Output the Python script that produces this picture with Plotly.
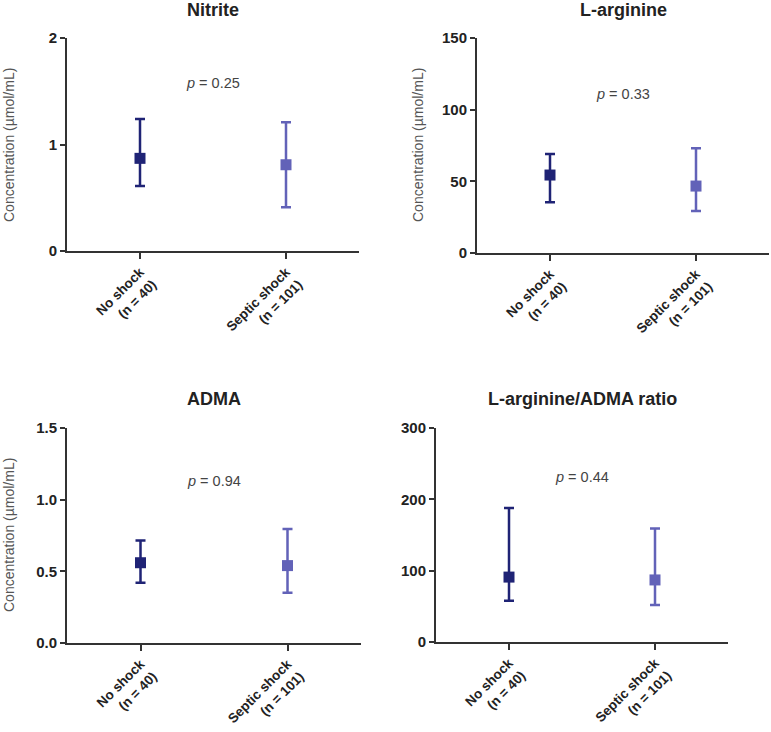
import plotly.graph_objects as go

W, H = 771, 732

groups = ["No shock<br>(n = 40)", "Septic shock<br>(n = 101)"]
colors = ["#1f2375", "#6262b8"]

titles = ["Nitrite", "L-arginine", "ADMA", "L-arginine/ADMA ratio"]
p_texts = ["0.25", "0.33", "0.94", "0.44"]
y_max = [2, 150, 1.5, 300]
y_dtick = [1, 50, 0.5, 100]
y_fmt = ["d", "d", ".1f", "d"]
show_ytitle = [True, True, True, False]

# median, upper, lower for [No shock, Septic shock]
centers = [[0.87, 0.81], [54.4, 46.7], [0.56, 0.54], [91, 87]]
uppers = [[1.24, 1.21], [69, 73], [0.715, 0.795], [188, 159]]
lowers = [[0.61, 0.41], [35.4, 29.3], [0.42, 0.35], [58, 52]]
p_y = [1.58, 111, 1.13, 232]

# panel pixel boxes: (x_left, x_right, y_top, y_bottom)
boxes = [(67, 359, 38, 251), (477, 769, 38, 253), (67, 361, 428, 643), (436, 728, 428, 642)]
ytitle_pos = [(9, 145), (418, 145), (9, 535), None]

fig = go.Figure()
axis_color = "#333333"
font_family = "Liberation Sans, Arial, sans-serif"

for i in range(4):
    xl, xr, yt, yb = boxes[i]
    xs = "" if i == 0 else str(i + 1)
    xa = "x" + xs
    ya = "y" + xs
    for g in range(2):
        c = centers[i][g]
        fig.add_trace(go.Scatter(
            x=[g], y=[c], mode="markers", xaxis=xa, yaxis=ya,
            marker=dict(symbol="square", size=11, color=colors[g]),
            error_y=dict(type="data", symmetric=False,
                         array=[uppers[i][g] - c], arrayminus=[c - lowers[i][g]],
                         color=colors[g], thickness=2.5, width=5),
            showlegend=False, cliponaxis=False))
    fig.layout["xaxis" + xs] = dict(
        domain=[xl / W, xr / W], anchor=ya, range=[-0.5, 1.5], automargin=False,
        tickmode="array", tickvals=[0, 1], ticktext=groups, tickangle=-45,
        showline=True, linecolor=axis_color, linewidth=2, ticks="outside",
        ticklen=6, tickwidth=2, tickcolor=axis_color, showgrid=False, zeroline=False,
        tickfont=dict(family=font_family, size=13.5, color="#222222", weight="bold"),
        fixedrange=True)
    fig.layout["yaxis" + xs] = dict(
        domain=[(H - yb) / H, (H - yt) / H], anchor=xa, range=[0, y_max[i]],
        automargin=False,
        dtick=y_dtick[i], tick0=0, tickformat=y_fmt[i],
        showline=True, linecolor=axis_color, linewidth=2, ticks="outside",
        ticklen=5, tickwidth=2, tickcolor=axis_color, showgrid=False, zeroline=False,
        tickfont=dict(family=font_family, size=15, color="#222222", weight="bold"),
        fixedrange=True)
    fig.add_annotation(text="<b>" + titles[i] + "</b>", xref="paper", yref="paper",
                       x=(xl + xr) / 2 / W, y=(H - 10) / H if i < 2 else (H - 399) / H,
                       showarrow=False, xanchor="center", yanchor="middle",
                       font=dict(family=font_family, size=18, color="#222222"))
    fig.add_annotation(text="<i>p</i> = " + p_texts[i], xref=xa, yref=ya,
                       x=0.5, y=p_y[i], showarrow=False,
                       font=dict(family=font_family, size=14.5, color="#444444"))
    if show_ytitle[i]:
        px, py = ytitle_pos[i]
        fig.add_annotation(text="Concentration (µmol/mL)", xref="paper", yref="paper",
                           x=px / W, y=(H - py) / H, showarrow=False, textangle=-90,
                           xanchor="center", yanchor="middle",
                           font=dict(family=font_family, size=14, color="#555555"))

fig.update_layout(width=W, height=H, margin=dict(l=0, r=0, t=0, b=0),
                  paper_bgcolor="white", plot_bgcolor="white")

fig.write_html("out.html", config={"displayModeBar": False},
               post_script="document.body.style.margin='0';document.body.style.overflow='hidden';")
